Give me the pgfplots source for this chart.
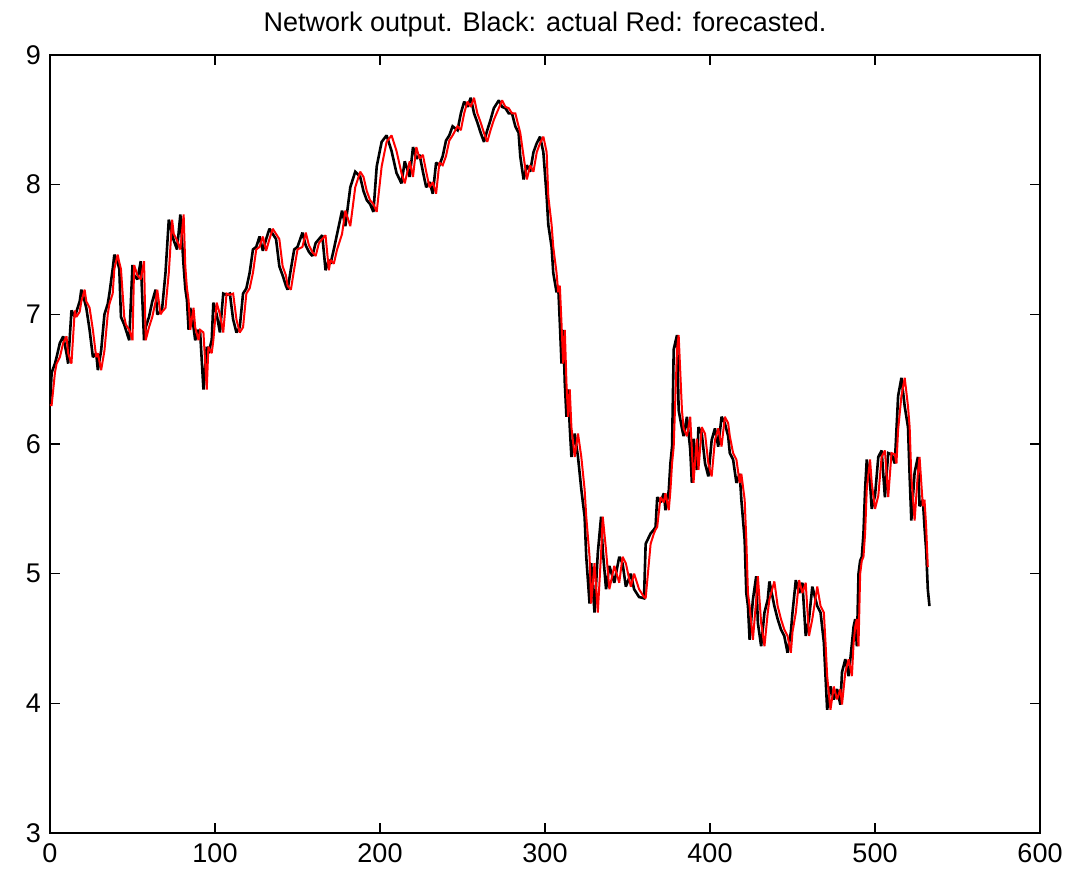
\documentclass[border=0pt]{standalone}
\usepackage{fontspec}
\setmainfont{Liberation Sans}
\usepackage{pgfplots}
\usepackage{pgfplotstable}
\pgfplotsset{compat=1.18}
\pgfplotstableread{
x a f
0 6.30 6.30
1 6.55 6.30
3 6.62 6.55
4 6.67 6.62
6 6.78 6.67
8 6.83 6.78
10 6.70 6.83
11 6.62 6.70
13 7.03 6.62
15 6.98 7.03
16 7.02 6.98
18 7.10 7.02
19 7.19 7.10
21 7.10 7.19
22 7.05 7.10
24 6.88 7.05
26 6.67 6.88
28 6.70 6.67
29 6.57 6.70
31 6.72 6.57
33 7.00 6.72
35 7.08 7.00
36 7.16 7.08
38 7.35 7.16
39 7.46 7.35
41 7.40 7.46
42 7.35 7.40
43 6.98 7.35
45 6.92 6.98
46 6.88 6.92
48 6.80 6.88
50 7.38 6.80
51 7.30 7.38
53 7.27 7.30
55 7.41 7.27
57 6.80 7.41
58 6.90 6.80
60 6.98 6.90
62 7.10 6.98
64 7.19 7.10
65 7.00 7.19
67 7.02 7.00
68 7.05 7.02
70 7.32 7.05
72 7.73 7.32
74 7.62 7.73
75 7.57 7.62
77 7.50 7.57
79 7.77 7.50
81 7.37 7.77
82 7.20 7.37
83 7.11 7.20
84 6.88 7.11
85 7.05 6.88
87 6.90 7.05
88 6.80 6.90
90 6.88 6.80
91 6.86 6.88
93 6.42 6.86
95 6.75 6.42
96 6.70 6.75
98 6.80 6.70
99 7.09 6.80
101 7.00 7.09
103 6.86 7.00
105 7.16 6.86
107 7.15 7.16
109 7.16 7.15
111 6.96 7.16
113 6.86 6.96
115 6.90 6.86
117 7.16 6.90
119 7.20 7.16
121 7.32 7.20
123 7.50 7.32
125 7.52 7.50
127 7.60 7.52
129 7.49 7.60
131 7.58 7.49
133 7.66 7.58
135 7.62 7.66
137 7.58 7.62
139 7.37 7.58
141 7.30 7.37
143 7.22 7.30
144 7.19 7.22
146 7.35 7.19
148 7.50 7.35
150 7.52 7.50
153 7.63 7.52
155 7.53 7.63
157 7.48 7.53
159 7.45 7.48
161 7.55 7.45
163 7.58 7.55
165 7.61 7.58
167 7.34 7.61
169 7.42 7.34
170 7.39 7.42
172 7.50 7.39
174 7.62 7.50
177 7.80 7.62
179 7.68 7.80
182 7.98 7.68
185 8.10 7.98
188 8.06 8.10
190 7.95 8.06
192 7.88 7.95
194 7.85 7.88
196 7.79 7.85
198 8.14 7.79
201 8.33 8.14
204 8.38 8.33
207 8.26 8.38
210 8.09 8.26
213 8.01 8.09
215 8.18 8.01
218 8.06 8.18
220 8.29 8.06
222 8.20 8.29
224 8.23 8.20
226 8.10 8.23
228 7.98 8.10
230 8.02 7.98
232 7.93 8.02
234 8.17 7.93
236 8.15 8.17
238 8.22 8.15
240 8.34 8.22
242 8.38 8.34
244 8.45 8.38
247 8.42 8.45
249 8.55 8.42
251 8.64 8.55
253 8.60 8.64
255 8.67 8.60
257 8.55 8.67
259 8.48 8.55
261 8.40 8.48
263 8.33 8.40
265 8.42 8.33
267 8.50 8.42
269 8.59 8.50
272 8.65 8.59
274 8.60 8.65
276 8.59 8.60
278 8.55 8.59
280 8.55 8.55
282 8.45 8.55
284 8.40 8.45
285 8.22 8.40
287 8.04 8.22
289 8.15 8.04
291 8.10 8.15
293 8.25 8.10
295 8.32 8.25
297 8.37 8.32
299 8.25 8.37
301 7.91 8.25
302 7.69 7.91
304 7.52 7.69
305 7.32 7.52
307 7.17 7.32
308 7.22 7.17
309 6.93 7.22
310 6.62 6.93
311 6.88 6.62
312 6.47 6.88
313 6.21 6.47
314 6.42 6.21
315 6.13 6.42
316 5.90 6.13
318 6.08 5.90
320 5.90 6.08
322 5.65 5.90
324 5.44 5.65
325 5.13 5.44
327 4.77 5.13
328 5.08 4.77
330 4.70 5.08
332 5.16 4.70
334 5.44 5.16
335 5.18 5.44
337 4.88 5.18
339 5.06 4.88
342 4.93 5.06
345 5.13 4.93
347 5.08 5.13
349 4.90 5.08
352 5.00 4.90
354 4.88 5.00
357 4.82 4.88
360 4.81 4.82
361 5.23 4.81
364 5.31 5.23
366 5.34 5.31
367 5.36 5.34
368 5.59 5.36
370 5.55 5.59
372 5.62 5.55
373 5.49 5.62
375 5.64 5.49
376 5.85 5.64
377 5.98 5.85
378 6.73 5.98
380 6.84 6.73
381 6.26 6.84
383 6.12 6.26
384 6.06 6.12
386 6.21 6.06
388 5.96 6.21
389 5.70 5.96
390 6.04 5.70
392 5.80 6.04
393 6.13 5.80
395 6.08 6.13
397 5.85 6.08
399 5.75 5.85
401 6.03 5.75
403 6.12 6.03
405 5.98 6.12
407 6.21 5.98
409 6.16 6.21
411 6.06 6.16
412 5.93 6.06
414 5.88 5.93
416 5.70 5.88
418 5.77 5.70
419 5.57 5.77
421 5.26 5.57
422 4.85 5.26
423 4.75 4.85
424 4.49 4.75
426 4.80 4.49
428 4.98 4.80
429 4.62 4.98
431 4.44 4.62
433 4.70 4.44
435 4.80 4.70
436 4.94 4.80
439 4.75 4.94
441 4.65 4.75
443 4.57 4.65
445 4.52 4.57
447 4.39 4.52
449 4.55 4.39
450 4.70 4.55
452 4.95 4.70
454 4.85 4.95
456 4.93 4.85
458 4.52 4.93
460 4.65 4.52
462 4.90 4.65
465 4.75 4.90
467 4.70 4.75
469 4.47 4.70
470 4.21 4.47
471 3.95 4.21
473 4.13 3.95
475 4.03 4.13
477 4.11 4.03
479 3.99 4.11
480 4.24 3.99
482 4.34 4.24
484 4.21 4.34
486 4.46 4.21
487 4.59 4.46
488 4.65 4.59
489 4.44 4.65
490 5.00 4.44
491 5.10 5.00
492 5.13 5.10
493 5.31 5.13
494 5.65 5.31
495 5.88 5.65
497 5.70 5.88
498 5.50 5.70
500 5.60 5.50
502 5.90 5.60
504 5.95 5.90
506 5.59 5.95
508 5.93 5.59
510 5.92 5.93
512 5.85 5.92
513 6.11 5.85
514 6.37 6.11
516 6.51 6.37
518 6.29 6.51
520 6.13 6.29
521 5.75 6.13
522 5.41 5.75
524 5.78 5.41
526 5.90 5.78
527 5.52 5.90
529 5.57 5.52
530 5.36 5.57
531 5.18 5.36
532 4.88 5.05
533 4.75 nan
}\datatable
\begin{document}
\begin{tikzpicture}
\begin{axis}[
  scale only axis,
  width=495pt, height=389pt,
  xmin=0, xmax=600, ymin=3, ymax=9,
  xtick={0,100,...,600}, ytick={3,4,...,9},
  tick align=inside, major tick length=5pt,
  tick style={line width=0.8pt, black},
  axis line style={line width=1pt},
  /pgf/number format/assume math mode=true,
  tick label style={font=\fontsize{13.5}{16}\selectfont},
  xticklabel style={yshift=-2pt},
  yticklabel style={xshift=-1pt},
  title={Network output. Black: actual Red: forecasted.},
  title style={font=\fontsize{13.5}{16}\selectfont, at={(0.5,1)}, anchor=base, yshift=5.5pt},
  clip=true,
]
\coordinate (sw) at (rel axis cs:0,0);
\coordinate (ne) at (rel axis cs:1,1);
\addplot[black, line width=1.3pt, line join=miter, miter limit=2] table[x=x, y=a] {\datatable};
\addplot[red, line width=1pt, line join=miter, miter limit=2, unbounded coords=discard] table[x=x, y=f] {\datatable};
\end{axis}
\pgfresetboundingbox
\path ([xshift=-25pt,yshift=-19pt]sw) rectangle ([xshift=16.5pt,yshift=27.5pt]ne);
\end{tikzpicture}
\end{document}
